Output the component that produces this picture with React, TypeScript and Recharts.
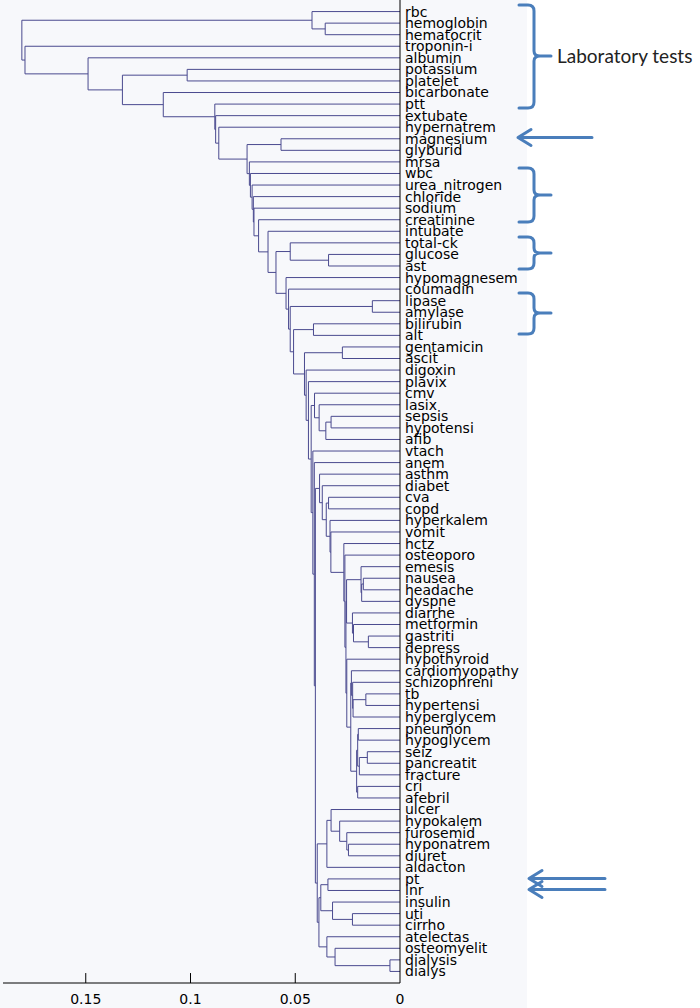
import React from 'react';
import { ComposedChart, Line, XAxis, YAxis, ReferenceLine } from 'recharts';

// leaves, top to bottom
const leafLabels = [
  'rbc', 'hemoglobin', 'hematocrit', 'troponin-i', 'albumin', 'potassium', 'platelet', 'bicarbonate',
  'ptt', 'extubate', 'hypernatrem', 'magnesium', 'glyburid', 'mrsa', 'wbc', 'urea_nitrogen',
  'chloride', 'sodium', 'creatinine', 'intubate', 'total-ck', 'glucose', 'ast', 'hypomagnesem',
  'coumadin', 'lipase', 'amylase', 'bilirubin', 'alt', 'gentamicin', 'ascit', 'digoxin',
  'plavix', 'cmv', 'lasix', 'sepsis', 'hypotensi', 'afib', 'vtach', 'anem',
  'asthm', 'diabet', 'cva', 'copd', 'hyperkalem', 'vomit', 'hctz', 'osteoporo',
  'emesis', 'nausea', 'headache', 'dyspne', 'diarrhe', 'metformin', 'gastriti', 'depress',
  'hypothyroid', 'cardiomyopathy', 'schizophreni', 'tb', 'hypertensi', 'hyperglycem', 'pneumon', 'hypoglycem',
  'seiz', 'pancreatit', 'fracture', 'cri', 'afebril', 'ulcer', 'hypokalem', 'furosemid',
  'hyponatrem', 'diuret', 'aldacton', 'pt', 'inr', 'insulin', 'uti', 'cirrho',
  'atelectas', 'osteomyelit', 'dialysis', 'dialys',
];

// [cluster, left child, right child, linkage distance]
const merges: [string, string, string, number][] = [
  ['HH', 'hemoglobin', 'hematocrit', 0.0357],
  ['A', 'rbc', 'HH', 0.042],
  ['PP', 'potassium', 'platelet', 0.1016],
  ['MG', 'magnesium', 'glyburid', 0.0568],
  ['GA', 'glucose', 'ast', 0.0341],
  ['TK', 'total-ck', 'GA', 0.0524],
  ['LIP', 'lipase', 'amylase', 0.0132],
  ['BIL', 'bilirubin', 'alt', 0.0413],
  ['GEN', 'gentamicin', 'ascit', 0.0275],
  ['SH', 'sepsis', 'hypotensi', 0.0329],
  ['AF', 'SH', 'afib', 0.0354],
  ['LS', 'lasix', 'AF', 0.0386],
  ['CM', 'cmv', 'LS', 0.0408],
  ['CC', 'cva', 'copd', 0.0341],
  ['NH', 'nausea', 'headache', 0.0175],
  ['E1', 'NH', 'dyspne', 0.0183],
  ['E2', 'emesis', 'E1', 0.0186],
  ['GD', 'gastriti', 'depress', 0.0151],
  ['MF', 'metformin', 'GD', 0.0222],
  ['DI', 'diarrhe', 'MF', 0.0227],
  ['ED', 'E2', 'DI', 0.0255],
  ['TH', 'tb', 'hypertensi', 0.0163],
  ['S1', 'TH', 'hyperglycem', 0.0224],
  ['S2', 'schizophreni', 'S1', 0.0226],
  ['CS', 'cardiomyopathy', 'S2', 0.0232],
  ['PH', 'pneumon', 'hypoglycem', 0.0199],
  ['SP', 'seiz', 'pancreatit', 0.0156],
  ['SF', 'SP', 'fracture', 0.0194],
  ['P1', 'PH', 'SF', 0.0202],
  ['CA', 'cri', 'afebril', 0.0202],
  ['P2', 'P1', 'CA', 0.0207],
  ['X', 'CS', 'P2', 0.0235],
  ['HY', 'hypothyroid', 'X', 0.0254],
  ['G1', 'ED', 'HY', 0.0258],
  ['G2', 'osteoporo', 'G1', 0.0263],
  ['G3', 'hctz', 'G2', 0.0268],
  ['K1', 'vomit', 'G3', 0.033],
  ['K2', 'hyperkalem', 'K1', 0.0334],
  ['CK', 'CC', 'K2', 0.0352],
  ['DC', 'diabet', 'CK', 0.0371],
  ['UC', 'asthm', 'DC', 0.0384],
  ['HD', 'hyponatrem', 'diuret', 0.0246],
  ['FU', 'furosemid', 'HD', 0.0254],
  ['HK', 'hypokalem', 'FU', 0.0288],
  ['UL', 'ulcer', 'HK', 0.0329],
  ['U', 'UL', 'aldacton', 0.0349],
  ['PI', 'pt', 'inr', 0.0344],
  ['UT', 'uti', 'cirrho', 0.0227],
  ['IU', 'insulin', 'UT', 0.0322],
  ['PIN', 'PI', 'IU', 0.0378],
  ['DD', 'dialysis', 'dialys', 0.0048],
  ['OD', 'osteomyelit', 'DD', 0.031],
  ['AT', 'atelectas', 'OD', 0.0349],
  ['B2L', 'PIN', 'AT', 0.0387],
  ['LC', 'U', 'B2L', 0.0395],
  ['T1', 'UC', 'LC', 0.0404],
  ['T0', 'anem', 'T1', 0.0409],
  ['V1', 'vtach', 'T0', 0.0416],
  ['C1', 'CM', 'V1', 0.0424],
  ['PL', 'plavix', 'C1', 0.0437],
  ['D1', 'digoxin', 'PL', 0.0448],
  ['GE', 'GEN', 'D1', 0.0456],
  ['BA', 'BIL', 'GE', 0.0508],
  ['LA', 'LIP', 'BA', 0.0524],
  ['CO', 'coumadin', 'LA', 0.0532],
  ['HM', 'hypomagnesem', 'CO', 0.0544],
  ['TC', 'TK', 'HM', 0.0592],
  ['IN', 'intubate', 'TC', 0.063],
  ['CR', 'creatinine', 'IN', 0.0675],
  ['CH5', 'sodium', 'CR', 0.0697],
  ['CH4', 'chloride', 'CH5', 0.07],
  ['CH3', 'urea_nitrogen', 'CH4', 0.0706],
  ['CH2', 'wbc', 'CH3', 0.0714],
  ['CH', 'mrsa', 'CH2', 0.0719],
  ['M', 'MG', 'CH', 0.073],
  ['N', 'hypernatrem', 'M', 0.0865],
  ['P', 'extubate', 'N', 0.088],
  ['Q', 'ptt', 'P', 0.0884],
  ['B3', 'bicarbonate', 'Q', 0.113],
  ['B2', 'PP', 'B3', 0.1325],
  ['B', 'albumin', 'B2', 0.1489],
  ['T', 'troponin-i', 'B', 0.179],
  ['ROOT', 'A', 'T', 0.1805],
];

const distTicks = [0, 0.05, 0.1, 0.15];
const leafTicks = leafLabels.map((_, i) => i + 1);

const LINK_COLOR = '#4a4a8f';
const NOTE_COLOR = '#4a7ebb';
const FONT = '"DejaVu Sans", Verdana, sans-serif';

type Pt = { x: number; y: number };

// each link is a U shape: child -> out to merge height -> across -> back to other child
const buildLinks = () => {
  const pos: Record<string, Pt> = {};
  leafLabels.forEach((name, i) => {
    pos[name] = { x: 0, y: i + 1 };
  });
  const byName: Record<string, [string, string, string, number]> = {};
  merges.forEach((m) => {
    byName[m[0]] = m;
  });
  const resolve = (name: string): Pt => {
    if (pos[name]) return pos[name];
    const [, a, b, h] = byName[name];
    const pa = resolve(a);
    const pb = resolve(b);
    pos[name] = { x: h, y: (pa.y + pb.y) / 2 };
    return pos[name];
  };
  return merges.map(([name, a, b, h]) => {
    const pa = resolve(a);
    const pb = resolve(b);
    return {
      name,
      points: [
        { x: pa.x, y: pa.y },
        { x: h, y: pa.y },
        { x: h, y: pb.y },
        { x: pb.x, y: pb.y },
      ],
    };
  });
};

const brace = (top: number, bottom: number, mid: number) =>
  `M519 ${top} L528 ${top} Q534 ${top} 534 ${top + 6} L534 ${mid - 5} Q534 ${mid} 540 ${mid} L551 ${mid} ` +
  `M540 ${mid} Q534 ${mid} 534 ${mid + 5} L534 ${bottom - 6} Q534 ${bottom} 528 ${bottom} L519 ${bottom}`;

const arrow = (y: number, x0: number, x1: number) =>
  `M${x1} ${y} L${x0} ${y} M${x0 + 13} ${y - 8} L${x0} ${y} L${x0 + 13} ${y + 8}`;

const Notes = () => (
  <svg width={700} height={1008} style={{ position: 'absolute', left: 0, top: 0, pointerEvents: 'none' }}>
    <g fill="none" stroke={NOTE_COLOR} strokeWidth={3} strokeLinecap="round" strokeLinejoin="round">
      <path d={brace(5, 108, 56)} />
      <path d={brace(168, 222, 195)} />
      <path d={brace(237, 269, 253)} />
      <path d={brace(293, 334, 313)} />
      <path d={arrow(137.5, 518, 592)} />
      <path d={arrow(878.5, 529, 605)} />
      <path d={arrow(889.5, 529, 605)} />
    </g>
    <text x={557} y={63} fontFamily="Lato, 'Open Sans', sans-serif" fontSize={19} fill="#222">
      Laboratory tests
    </text>
  </svg>
);

const App: React.FC = () => {
  const links = buildLinks();
  return (
    <div style={{ position: 'absolute', left: 0, top: 0, width: 700, height: 1008, background: '#fff' }}>
      <div style={{ position: 'absolute', left: 0, top: 0, width: 527, height: 1008, background: '#f7f8fb' }} />
      <div style={{ position: 'absolute', left: 0, top: 0 }}>
        <ComposedChart width={700} height={1008} margin={{ top: 0, right: 0, bottom: 0, left: 3 }}>
          <XAxis
            type="number"
            dataKey="x"
            domain={[0, 0.1895]}
            reversed
            allowDataOverflow
            ticks={distTicks}
            interval={0}
            tickFormatter={(v: number) => String(v)}
            height={25}
            tickLine={false}
            tickSize={9}
            tickMargin={2}
            axisLine={{ stroke: '#000' }}
            tick={{ fontSize: 14, fill: '#000', fontFamily: FONT }}
          />
          <YAxis
            type="number"
            dataKey="y"
            orientation="right"
            domain={[0, 85]}
            reversed
            allowDataOverflow
            ticks={leafTicks}
            interval={0}
            width={300}
            tickFormatter={(v: number) => leafLabels[v - 1] ?? ''}
            tickLine={false}
            tickSize={3}
            tickMargin={2}
            axisLine={{ stroke: '#000' }}
            tick={{ fontSize: 14, fill: '#000', fontFamily: FONT }}
          />
          {distTicks.slice(1).map((t) => (
            <ReferenceLine
              key={`tick-${t}`}
              segment={[{ x: t, y: 85 }, { x: t, y: 84.14 }]}
              stroke="#000"
              strokeWidth={1}
            />
          ))}
          {links.map((l) => (
            <Line
              key={l.name}
              data={l.points}
              dataKey="y"
              type="linear"
              stroke={LINK_COLOR}
              strokeWidth={1}
              dot={false}
              activeDot={false}
              isAnimationActive={false}
            />
          ))}
        </ComposedChart>
      </div>
      <Notes />
    </div>
  );
};

export default App;
